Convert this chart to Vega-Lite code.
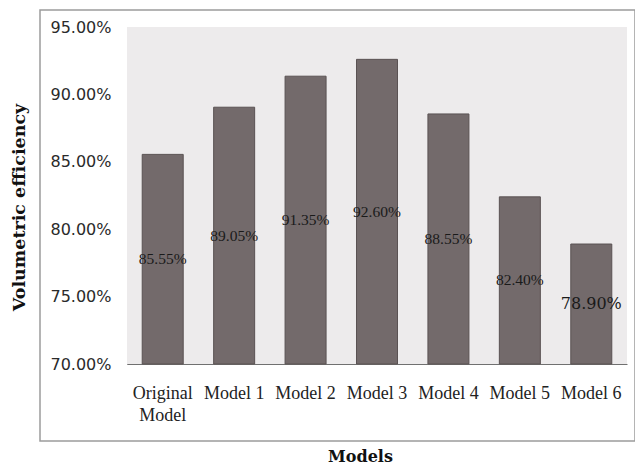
{
  "$schema": "https://vega.github.io/schema/vega-lite/v6.json",
  "width": 595,
  "height": 431,
  "autosize": "none",
  "padding": {"left": 40, "top": 10, "right": 0, "bottom": 24},
  "background": "white",
  "config": {
    "view": {"stroke": "#9c9c9c", "strokeWidth": 1.5, "fill": "white"}
  },
  "data": {
    "values": [
      {"model": "Original Model", "value": 0.8555},
      {"model": "Model 1", "value": 0.8905},
      {"model": "Model 2", "value": 0.9135},
      {"model": "Model 3", "value": 0.926},
      {"model": "Model 4", "value": 0.8855},
      {"model": "Model 5", "value": 0.824},
      {"model": "Model 6", "value": 0.789}
    ]
  },
  "layer": [
    {
      "mark": {"type": "rect", "color": "#edebec"},
      "encoding": {
        "x": {"datum": 0, "type": "quantitative", "scale": {"domain": [0, 1], "range": [87, 587]}, "axis": null},
        "x2": {"datum": 1},
        "y": {"datum": 0.70, "type": "quantitative", "scale": {"domain": [0.70, 0.95], "range": [354, 17], "zero": false, "nice": false}, "axis": null},
        "y2": {"datum": 0.95}
      }
    },
    {
      "mark": {"type": "bar", "color": "#736a6b", "stroke": "#5a5253", "strokeWidth": 1},
      "encoding": {
        "x": {
          "field": "model", "type": "nominal", "sort": null,
          "scale": {"domain": ["Original Model", "Model 1", "Model 2", "Model 3", "Model 4", "Model 5", "Model 6"], "range": [87, 587], "paddingInner": 0.426, "paddingOuter": 0.213},
          "axis": {
            "orient": "bottom", "offset": -77, "title": "Models",
            "labelExpr": "datum.label == 'Original Model' ? ['Original', 'Model'] : datum.label",
            "labelAngle": 0, "labelFont": "Liberation Serif", "labelFontSize": 18, "labelColor": "#222222",
            "labelPadding": 20, "labelLineHeight": 22, "ticks": false, "tickSize": 0,
            "domainColor": "#707070", "domainWidth": 1,
            "titleFont": "DejaVu Serif", "titleFontWeight": "bold", "titleFontSize": 16, "titleColor": "#111111",
            "titleX": 320, "titleY": 97, "titleBaseline": "alphabetic", "titleAlign": "center"
          }
        },
        "y": {
          "field": "value", "type": "quantitative",
          "scale": {"domain": [0.70, 0.95], "range": [354, 17], "zero": false, "nice": false},
          "axis": {
            "orient": "left", "offset": -87, "title": "Volumetric efficiency",
            "values": [0.70, 0.75, 0.80, 0.85, 0.90, 0.95], "format": ".2%",
            "labelFont": "DejaVu Sans", "labelFontSize": 16, "labelColor": "#2a2a2a",
            "labelPadding": 16, "ticks": false, "tickSize": 0, "grid": false,
            "domainColor": "#707070", "domainWidth": 1,
            "titleFont": "DejaVu Serif", "titleFontWeight": "bold", "titleFontSize": 17.5, "titleColor": "#111111",
            "titleX": -99, "titleY": 197
          }
        },
        "y2": {"datum": 0.70}
      }
    },
    {
      "transform": [{"filter": "datum.model != 'Model 6'"}],
      "mark": {"type": "text", "font": "Liberation Serif", "fontSize": 15.5, "baseline": "middle", "align": "center", "color": "#1a1a1a"},
      "encoding": {
        "x": {"field": "model", "type": "nominal", "sort": null,
          "scale": {"domain": ["Original Model", "Model 1", "Model 2", "Model 3", "Model 4", "Model 5", "Model 6"], "range": [87, 587], "paddingInner": 0.426, "paddingOuter": 0.213}, "axis": null},
        "y": {"field": "value", "type": "quantitative", "scale": {"domain": [0.70, 1.20], "range": [354, 17], "zero": false, "nice": false}, "axis": null},
        "text": {"field": "value", "type": "quantitative", "format": ".2%"}
      }
    },
    {
      "transform": [{"filter": "datum.model == 'Model 6'"}],
      "mark": {"type": "text", "font": "DejaVu Serif", "fontSize": 16, "baseline": "middle", "align": "center", "color": "#1a1a1a"},
      "encoding": {
        "x": {"field": "model", "type": "nominal", "sort": null,
          "scale": {"domain": ["Original Model", "Model 1", "Model 2", "Model 3", "Model 4", "Model 5", "Model 6"], "range": [87, 587], "paddingInner": 0.426, "paddingOuter": 0.213}, "axis": null},
        "y": {"field": "value", "type": "quantitative", "scale": {"domain": [0.70, 1.20], "range": [354, 17], "zero": false, "nice": false}, "axis": null},
        "text": {"field": "value", "type": "quantitative", "format": ".2%"}
      }
    }
  ],
  "resolve": {"scale": {"x": "independent", "y": "independent"}}
}
